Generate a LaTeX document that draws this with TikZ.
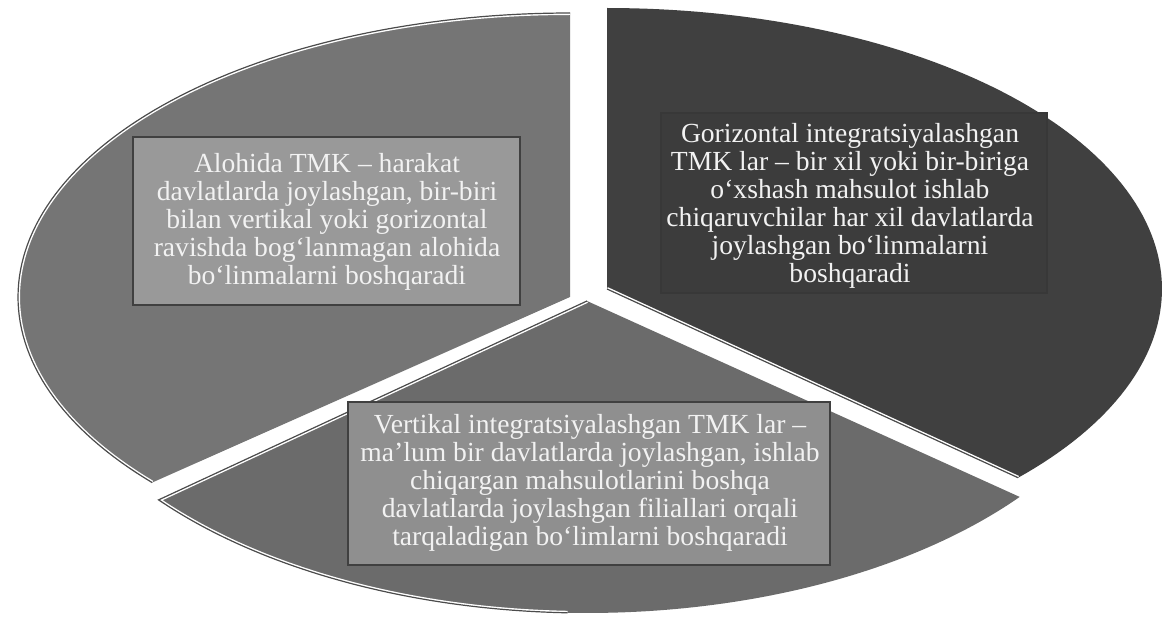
\documentclass[tikz,border=0pt]{standalone}
\usepackage{fontspec}
\setmainfont{Liberation Serif}
\definecolor{leftsec}{gray}{0.46}
\definecolor{botsec}{gray}{0.42}
\definecolor{rightsec}{gray}{0.25}
\definecolor{leftbox}{gray}{0.60}
\definecolor{botbox}{gray}{0.56}
\definecolor{rightbox}{gray}{0.235}
\definecolor{rightboxline}{gray}{0.22}
\definecolor{boxline}{gray}{0.25}
\definecolor{edgecol}{gray}{0.30}
\definecolor{textcol}{gray}{0.95}
\begin{document}
\begin{tikzpicture}[x=0.5pt,y=0.5pt,
  txt/.style={text=textcol, align=center, font=\fontsize{13.8}{14}\selectfont, inner sep=0pt},
  stripe/.style={white, line width=2pt},
  rim/.style={edgecol, line width=0.6pt},
  boxfill/.style={line width=1pt}]
\useasboundingbox (0,0) rectangle (1173,621);
\fill[white] (0,0) rectangle (1173,621);

% ---- left sector
\fill[leftsec] (570,324) -- plot[domain=90:220.8,samples=100] ({570+552*cos(\x)},{324+284*sin(\x)}) -- cycle;
\begin{scope}
\clip (570,324) -- plot[domain=90:220.8,samples=100] ({570+552*cos(\x)},{324+284*sin(\x)}) -- cycle;
\draw[stripe] plot[domain=90:220.8,samples=100] ({570+552*cos(\x)},{324+284*sin(\x)});
\end{scope}
\draw[rim] plot[domain=90:220.8,samples=100] ({570+552*cos(\x)},{324+284*sin(\x)});

% ---- right sector
\fill[rightsec] (607,332) -- plot[domain=-42.2:90,samples=100] ({607+555*cos(\x)},{332+281*sin(\x)}) -- cycle;
\begin{scope}
\clip (607,332) -- plot[domain=-42.2:90,samples=100] ({607+555*cos(\x)},{332+281*sin(\x)}) -- cycle;
\draw[stripe] (607,332) -- ({607+555*cos(-42.2)},{332+281*sin(-42.2)});
\end{scope}
\draw[rim] (607,332) -- ({607+555*cos(-42.2)},{332+281*sin(-42.2)});

% ---- bottom sector
\fill[botsec] (587,320) -- plot[domain=219.6:321.1,samples=100] ({587+556*cos(\x)},{320+312*sin(\x)}) -- cycle;
\begin{scope}
\clip (587,320) -- plot[domain=219.6:321.1,samples=100] ({587+556*cos(\x)},{320+312*sin(\x)}) -- cycle;
\draw[stripe] (587,320) -- plot[domain=219.6:268,samples=60] ({587+556*cos(\x)},{320+312*sin(\x)});
\end{scope}
\draw[rim] (587,320) -- plot[domain=219.6:268,samples=60] ({587+556*cos(\x)},{320+312*sin(\x)});

% ---- boxes
\draw[boxfill, fill=leftbox, draw=boxline] (133,316) rectangle (520,484);
\draw[boxfill, fill=rightbox, draw=rightboxline] (661,328) rectangle (1047,508);
\draw[boxfill, fill=botbox, draw=boxline] (348,56) rectangle (830,219);

% ---- texts
\node[txt] (tleft) at (327,399) {Alohida TMK -- harakat\\davlatlarda joylashgan, bir-biri\\bilan vertikal yoki gorizontal\\ravishda bog‘lanmagan alohida\\bo‘linmalarni boshqaradi};
\node[txt] (tright) at (850,415) {Gorizontal integratsiyalashgan\\TMK lar -- bir xil yoki bir-biriga\\o‘xshash mahsulot ishlab\\chiqaruvchilar har xil davlatlarda\\joylashgan bo‘linmalarni\\boshqaradi};
\node[txt] (tbot) at (590,138) {Vertikal integratsiyalashgan TMK lar --\\ma’lum bir davlatlarda joylashgan, ishlab\\chiqargan mahsulotlarini boshqa\\davlatlarda joylashgan filiallari orqali\\tarqaladigan bo‘limlarni boshqaradi};
\end{tikzpicture}
\end{document}
